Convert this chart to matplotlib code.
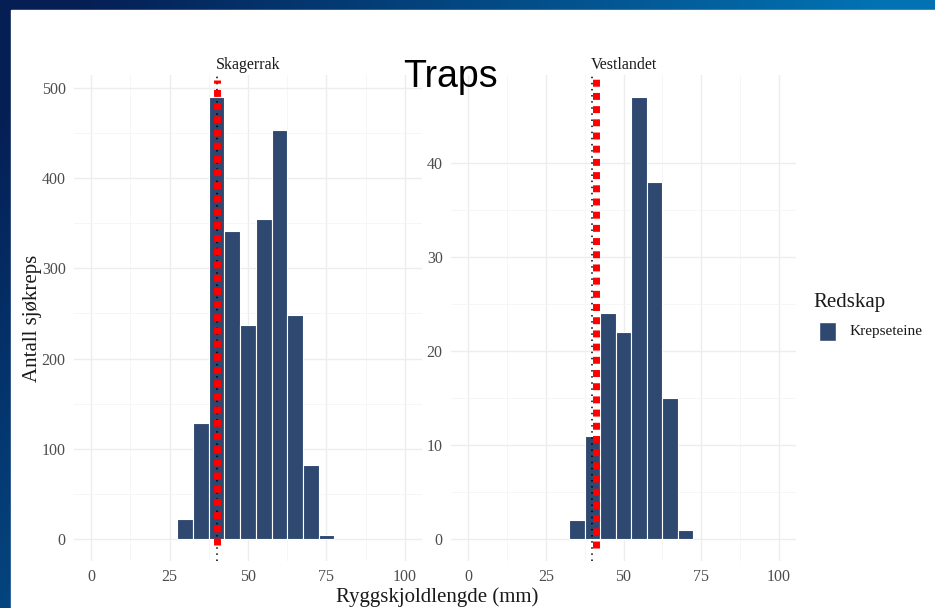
import numpy as np
import matplotlib.pyplot as plt
from matplotlib.patches import Rectangle

# Bin centres (mm) and counts per region
skag_bins = [30, 35, 40, 45, 50, 55, 60, 65, 70, 75]
skag_counts = [22, 128, 490, 342, 237, 355, 453, 248, 82, 4]
vest_bins = [35, 40, 45, 50, 55, 60, 65, 70]
vest_counts = [2, 11, 24, 22, 47, 38, 15, 1]
min_size = 40            # black dotted line (minimum size)
red_marks = [40.2, 41.3]  # red dotted lines drawn on top

bar_color = "#2E4870"
W, H = 935, 608

fig = plt.figure(figsize=(W / 100, H / 100), dpi=100)

# slide background: blue gradient with white content area
bg = fig.add_axes([0, 0, 1, 1])
yy, xx = np.mgrid[0:H, 0:W]
t = np.clip(xx / 800 + yy / 1100 - 0.1, 0, 1)
c0 = np.array([0.02, 0.12, 0.33])
c1 = np.array([0.01, 0.45, 0.70])
img = c0[None, None, :] * (1 - t[..., None]) + c1[None, None, :] * t[..., None]
bg.imshow(img, extent=[0, W, H, 0], aspect="auto")
bg.add_patch(Rectangle((11, 10), W - 11, H - 10, color="white"))
bg.set_xlim(0, W)
bg.set_ylim(H, 0)
bg.axis("off")

serif = "Liberation Serif"
grid_major = "#ededed"
grid_minor = "#f5f5f5"

def panel(rect, bins, counts, ylim, yticks, title, red_x, red_y):
    ax = fig.add_axes(rect)
    ax.set_facecolor("none")
    ax.bar(bins, counts, width=5, color=bar_color, edgecolor="white", linewidth=0.8, zorder=2)
    ax.set_xlim(-5.5, 105.5)
    ax.set_ylim(*ylim)
    ax.set_xticks([0, 25, 50, 75, 100])
    ax.set_xticks([12.5, 37.5, 62.5, 87.5], minor=True)
    ax.set_yticks(yticks)
    step = yticks[1] - yticks[0]
    ax.set_yticks(np.array(yticks[:-1]) + step / 2, minor=True)
    ax.grid(which="major", color=grid_major, linewidth=1.0, zorder=0)
    ax.grid(which="minor", color=grid_minor, linewidth=0.6, zorder=0)
    ax.set_axisbelow(True)
    for s in ax.spines.values():
        s.set_visible(False)
    ax.tick_params(which="both", length=0, labelsize=11.5, labelcolor="#4d4d4d", pad=6)
    for lab in ax.get_xticklabels() + ax.get_yticklabels():
        lab.set_fontfamily(serif)
    ax.axvline(min_size, color="black", linestyle=(0, (1, 3)), linewidth=1.1, zorder=3)
    ax.plot([red_x, red_x], red_y, color="red", linewidth=5,
            linestyle=(0, (1.0, 0.9)), solid_capstyle="butt", dash_capstyle="butt", zorder=4)
    ax.set_title(title, fontfamily=serif, fontsize=11.5, color="#1a1a1a", pad=4)
    return ax

ax1 = panel([74 / W, 47 / H, 348 / W, 486 / H], skag_bins, skag_counts,
            (-24.5, 514.5), [0, 100, 200, 300, 400, 500], "Skagerrak",
            red_marks[0], [-7, 509])
ax2 = panel([451 / W, 47 / H, 345 / W, 486 / H], vest_bins, vest_counts,
            (-2.35, 49.35), [0, 10, 20, 30, 40], "Vestlandet",
            red_marks[1], [-1, 49])

fig.text(32 / W, 1 - 318 / H, "Antall sjøkreps", rotation=90, fontfamily=serif,
         fontsize=15, ha="center", va="center", color="#1a1a1a")
fig.text(437 / W, 1 - 597 / H, "Ryggskjoldlengde (mm)", fontfamily=serif,
         fontsize=15, ha="center", va="center", color="#1a1a1a")
fig.text(450 / W, 1 - 77 / H, "Traps", fontfamily="Liberation Sans",
         fontsize=27, ha="center", va="center", color="black")

# legend
fig.text(813 / W, 1 - 302 / H, "Redskap", fontfamily=serif, fontsize=15,
         ha="left", va="center", color="#1a1a1a")
bg.add_patch(Rectangle((819, 322), 17, 19, facecolor=bar_color, edgecolor="white"))
fig.text(850 / W, 1 - 332 / H, "Krepseteine", fontfamily=serif, fontsize=11,
         ha="left", va="center", color="#1a1a1a")

fig.savefig("out.png", dpi=100)
